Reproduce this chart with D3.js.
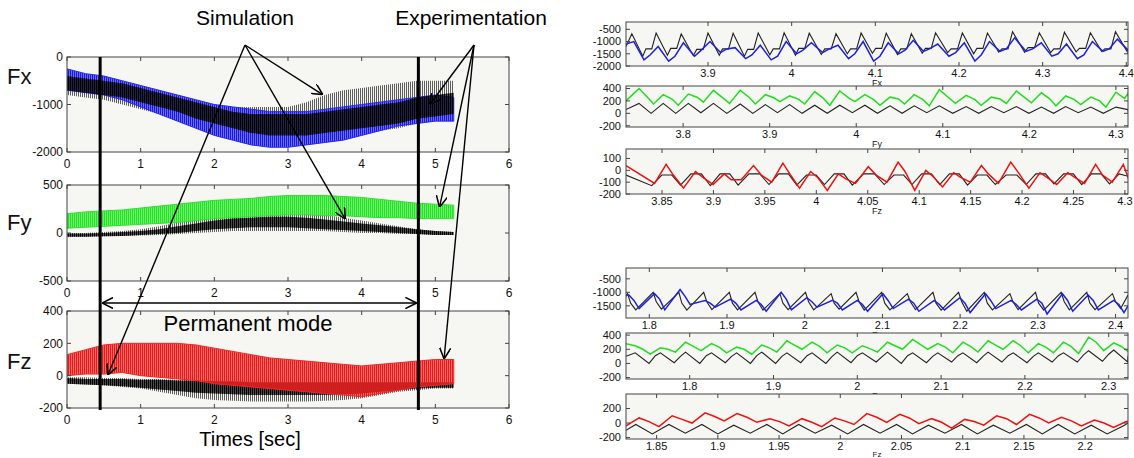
<!DOCTYPE html>
<html>
<head>
<meta charset="utf-8">
<script src="https://cdn.jsdelivr.net/npm/d3@7"></script>
<style>
  body { margin: 0; background: #fff; }
  text { font-family: "Liberation Sans", Arial, Helvetica, sans-serif; }
</style>
</head>
<body>
<script>
// ---------- left: whole run, envelopes read every 0.25 s ----------
var leftTime = [0, 0.25, 0.5, 0.75, 1, 1.25, 1.5, 1.75, 2, 2.25, 2.5, 2.75, 3, 3.25, 3.5, 3.75, 4, 4.25, 4.5, 4.75, 5, 5.25];
var leftXTicks = [0, 1, 2, 3, 4, 5, 6];

var fxExpUp  = [-250, -350, -400, -500, -600, -700, -800, -900, -1000, -1050, -1100, -1150, -1150, -1150, -1100, -1050, -1000, -950, -900, -850, -800, -850];
var fxExpLo  = [-700, -750, -800, -900, -1050, -1200, -1350, -1500, -1650, -1750, -1850, -1900, -1900, -1850, -1800, -1750, -1650, -1550, -1450, -1400, -1350, -1350];
var fxSimUp  = [-450, -500, -550, -600, -650, -750, -850, -950, -1000, -1050, -1050, -1050, -1050, -950, -800, -700, -650, -600, -550, -500, -500, -500];
var fxSimLo  = [-800, -850, -900, -1000, -1100, -1200, -1350, -1450, -1550, -1650, -1700, -1750, -1800, -1800, -1750, -1700, -1650, -1550, -1500, -1400, -1300, -1250];
var fxCoreUp = [-400, -450, -500, -550, -650, -750, -850, -950, -1050, -1150, -1200, -1200, -1200, -1200, -1150, -1100, -1050, -1000, -950, -850, -800, -750];
var fxCoreLo = [-700, -750, -800, -850, -950, -1050, -1150, -1300, -1400, -1500, -1600, -1650, -1650, -1650, -1600, -1550, -1500, -1450, -1400, -1300, -1250, -1200];

var fyExpUp  = [200, 220, 230, 240, 260, 280, 300, 320, 340, 350, 360, 380, 390, 390, 390, 380, 370, 350, 330, 310, 300, 290];
var fyExpLo  = [50, 60, 70, 80, 90, 100, 110, 130, 150, 160, 170, 180, 190, 190, 180, 180, 170, 160, 160, 150, 150, 150];
var fySimUp  = [0, 0, 10, 20, 40, 70, 110, 150, 180, 200, 210, 220, 220, 210, 190, 160, 130, 100, 70, 40, 20, 10];
var fySimLo  = [-40, -40, -35, -30, -25, -20, -10, 0, 10, 20, 20, 20, 20, 20, 20, 10, 0, 0, -10, -10, -20, -20];
var fyCoreUp = [-5, -5, 0, 10, 20, 40, 70, 100, 130, 150, 160, 170, 170, 160, 140, 120, 100, 80, 60, 40, 20, 10];
var fyCoreLo = [-40, -40, -35, -30, -20, -10, 0, 20, 40, 50, 60, 60, 60, 50, 40, 30, 20, 10, 0, -10, -20, -20];

var fzExpUp  = [130, 160, 190, 200, 200, 200, 200, 190, 170, 150, 130, 110, 100, 90, 80, 70, 60, 70, 80, 90, 100, 100];
var fzExpLo  = [0, 10, 10, 20, 0, -10, -20, -30, -50, -60, -70, -80, -90, -100, -110, -120, -130, -110, -90, -70, -60, -50];
var fzSimUp  = [-10, -10, -15, -15, -20, -20, -25, -25, -30, -30, -30, -30, -30, -30, -30, -30, -30, -30, -30, -30, -30, -30];
var fzSimLo  = [-50, -55, -60, -70, -80, -100, -120, -140, -150, -155, -160, -160, -160, -160, -155, -150, -140, -120, -100, -90, -80, -80];
var fzCoreUp = [-15, -20, -20, -20, -25, -25, -30, -30, -35, -35, -40, -40, -40, -40, -40, -40, -40, -40, -40, -40, -40, -40];
var fzCoreLo = [-50, -55, -60, -65, -75, -85, -95, -105, -110, -115, -120, -120, -120, -120, -120, -115, -110, -100, -90, -80, -75, -75];

var modeStart = 0.45, modeEnd = 4.77;

// ---------- right: zoomed windows, one value per cycle ----------
var a1Time = [3.809, 3.838, 3.868, 3.900, 3.930, 3.960, 3.991, 4.021, 4.053, 4.083, 4.113, 4.143, 4.172, 4.204, 4.234, 4.264, 4.296, 4.326, 4.357, 4.387];
var a1SimPeak   = [-680, -650, -690, -650, -660, -650, -640, -660, -680, -650, -660, -680, -640, -650, -650, -600, -640, -620, -640, -600];
var a1SimTrough = [-1600, -1560, -1580, -1560, -1600, -1540, -1560, -1530, -1500, -1480, -1530, -1480, -1450, -1500, -1430, -1440, -1450, -1420, -1400, -1380];
var a1SimStep   = [-1300, -1280, -1320, -1300, -1320, -1300, -1280, -1300, -1300, -1280, -1300, -1280, -1300, -1280, -1300, -1250, -1300, -1280, -1300, -1250];
var a1ExpPeak   = [-1000, -1200, -1050, -1000, -1250, -1150, -1000, -1050, -1150, -1000, -1050, -950, -1100, -1050, -1000, -850, -1050, -1100, -1000, -900];
var a1ExpTrough = [-1750, -1800, -1600, -1450, -1700, -1750, -1500, -1450, -1700, -1800, -1500, -1400, -1600, -1800, -1400, -1400, -1600, -1700, -1400, -1350];
var a1ExpStep   = [-1550, -1600, -1350, -1300, -1550, -1600, -1350, -1300, -1500, -1600, -1350, -1300, -1450, -1550, -1300, -1300, -1500, -1550, -1300, -1250];
var a1XTicks = [3.9, 4, 4.1, 4.2, 4.3, 4.4];

var a2Time = [3.749, 3.777, 3.806, 3.835, 3.866, 3.895, 3.923, 3.952, 3.981, 4.010, 4.039, 4.067, 4.096, 4.127, 4.156, 4.185, 4.214, 4.242, 4.271, 4.300];
var a2SimPeak   = [160, 160, 160, 160, 150, 140, 140, 130, 130, 130, 120, 120, 120, 110, 110, 110, 100, 110, 100, 100];
var a2SimTrough = [0, 0, 10, 0, 0, 10, 0, 0, 10, 0, 0, 10, 0, 0, 10, 0, 0, 10, 0, 0];
var a2ExpPeak   = [400, 300, 310, 370, 370, 300, 280, 350, 360, 300, 260, 300, 380, 290, 260, 360, 330, 280, 260, 340];
var a2ExpStep   = [260, 230, 260, 250, 260, 250, 230, 240, 250, 220, 230, 220, 250, 220, 230, 250, 230, 220, 200, 240];
var a2ExpTrough = [150, 130, 180, 160, 150, 190, 150, 130, 190, 130, 150, 120, 160, 130, 160, 170, 120, 140, 100, 150];
var a2XTicks = [3.8, 3.9, 4, 4.1, 4.2, 4.3];

var a3Time = [3.840, 3.868, 3.897, 3.924, 3.954, 3.981, 4.008, 4.035, 4.066, 4.093, 4.120, 4.147, 4.174, 4.204, 4.231, 4.258, 4.285];
var a3SimTrough = [-130, -125, -130, -125, -120, -125, -120, -125, -120, -120, -120, -125, -120, -120, -115, -120, -115];
var a3SimTop    = [-40, -30, -30, -30, -30, -40, -30, -30, -40, -30, -30, -40, -40, -30, -30, -30, -30];
var a3ExpTrough = [-110, -150, -120, -80, -100, -150, -170, -110, -100, -170, -140, -100, -110, -150, -120, -110, -100];
var a3ExpPeak   = [50, -10, -30, 40, 60, -10, -30, 30, 70, 0, -20, 40, 70, -20, -20, 50, 50];
var a3ExpStep   = [-40, -60, -80, -40, -30, -60, -70, -40, -10, -50, -60, -30, -20, -60, -60, -40, -20];
var a3XTicks = [3.85, 3.9, 3.95, 4, 4.05, 4.1, 4.15, 4.2, 4.25, 4.3];

var b1Time = [1.772, 1.805, 1.838, 1.870, 1.903, 1.936, 1.968, 2.001, 2.034, 2.066, 2.099, 2.132, 2.165, 2.198, 2.231, 2.264, 2.297, 2.330, 2.363, 2.396];
var b1SimPeak   = [-1050, -1000, -1000, -1000, -1000, -1000, -1050, -1000, -1050, -1000, -1000, -1050, -1000, -1000, -1000, -1050, -1000, -1000, -1000, -1050];
var b1SimKnee   = [-1400, -1350, -1400, -1350, -1400, -1350, -1400, -1350, -1400, -1350, -1400, -1350, -1400, -1350, -1400, -1350, -1400, -1350, -1400, -1350];
var b1SimTrough = [-1650, -1620, -1660, -1640, -1650, -1660, -1640, -1650, -1620, -1660, -1650, -1640, -1660, -1700, -1650, -1640, -1660, -1650, -1640, -1600];
var b1ExpPeak   = [-1100, -1050, -900, -1300, -1250, -1300, -1000, -1200, -1300, -1300, -1050, -1250, -1300, -1200, -1050, -1300, -1250, -1050, -1100, -1300];
var b1ExpKnee   = [-1300, -1250, -1150, -1400, -1400, -1450, -1250, -1350, -1400, -1450, -1300, -1400, -1450, -1400, -1300, -1450, -1400, -1300, -1300, -1450];
var b1ExpTrough = [-1600, -1650, -1450, -1550, -1650, -1700, -1650, -1550, -1650, -1700, -1600, -1700, -1650, -1750, -1600, -1650, -1800, -1700, -1650, -1750];
var b1XTicks = [1.8, 1.9, 2, 2.1, 2.2, 2.3, 2.4];

var b2Time = [1.735, 1.765, 1.795, 1.826, 1.856, 1.886, 1.916, 1.946, 1.976, 2.006, 2.036, 2.066, 2.096, 2.126, 2.156, 2.186, 2.216, 2.246, 2.276, 2.306];
var b2SimPeak   = [150, 150, 160, 150, 150, 160, 150, 150, 160, 150, 160, 150, 150, 150, 160, 150, 150, 150, 180, 190];
var b2SimTrough = [0, 10, 0, 10, 0, 0, 10, 0, 10, 20, 0, 10, 20, 10, 20, 10, 20, 20, 30, 20];
var b2SimStep   = [110, 100, 110, 100, 110, 100, 110, 100, 110, 100, 110, 100, 110, 100, 110, 100, 110, 120, 130, 120];
var b2ExpPeak   = [250, 220, 300, 280, 230, 260, 320, 300, 260, 250, 300, 340, 280, 300, 320, 320, 280, 300, 370, 290];
var b2ExpStep   = [200, 200, 240, 230, 200, 220, 260, 240, 220, 210, 250, 270, 230, 240, 260, 250, 230, 240, 300, 240];
var b2ExpTrough = [130, 160, 180, 150, 130, 160, 200, 150, 150, 160, 200, 200, 150, 160, 200, 150, 150, 140, 180, 170];
var b2XTicks = [1.8, 1.9, 2, 2.1, 2.2, 2.3];

var b3Time = [1.833, 1.860, 1.887, 1.913, 1.940, 1.966, 1.993, 2.019, 2.046, 2.072, 2.099, 2.125, 2.152, 2.178, 2.205, 2.231];
var b3SimPeak   = [-20, -20, -20, -30, -20, -20, -30, -20, -20, -30, -20, -30, -20, -20, -30, -40];
var b3SimTrough = [-150, -140, -150, -140, -150, -140, -150, -140, -150, -140, -150, -140, -150, -150, -150, -150];
var b3ExpPeak   = [70, 100, 140, 130, 60, 60, 70, 130, 120, 60, 50, 100, 120, 80, 40, 20];
var b3ExpStep   = [20, 50, 90, 80, 20, 10, 30, 80, 70, 10, 20, 60, 70, 30, 0, -20];
var b3ExpTrough = [-50, 0, 30, 10, -40, -50, -20, 10, -10, -70, -30, -20, 0, -40, -60, -70];
var b3XTicks = [1.85, 1.9, 1.95, 2, 2.05, 2.1, 2.15, 2.2];

// ---------- drawing ----------
var W = 1134, H = 458;
var svg = d3.select("body").append("svg").attr("width", W).attr("height", H);
var defs = svg.append("defs");

function hatch(id, color, w, gap) {
  defs.append("pattern").attr("id", id).attr("patternUnits", "userSpaceOnUse")
      .attr("width", gap).attr("height", 6)
    .append("rect").attr("width", w).attr("height", 6).attr("fill", color);
}
hatch("hGray", "#5c5c5c", 1, 2);
hatch("hCore", "#000", 1.7, 2);
hatch("hBlue", "#1616ee", 1.6, 2);
hatch("hGreen", "#1ee61e", 1.6, 2);
hatch("hRed", "#f01414", 1.6, 2);

defs.append("marker").attr("id", "arr").attr("viewBox", "0 0 10 10")
    .attr("refX", 9).attr("refY", 5).attr("markerWidth", 8).attr("markerHeight", 8)
    .attr("orient", "auto-start-reverse")
  .append("path").attr("d", "M0,0L10,5L0,10").attr("fill", "none")
    .attr("stroke", "#000").attr("stroke-width", 1.4);

var bg = "#f6f6f2", frame = "#444";
var clipN = 0;

function fmt(v) { return String(+v.toFixed(2)); }

function frameAndTicks(g, x, y, xTicks, yTicks, fs, yLabX, xLabDy) {
  var r = x.range(), s = y.range();
  g.append("rect").attr("x", r[0]).attr("y", s[1]).attr("width", r[1] - r[0])
    .attr("height", s[0] - s[1]).attr("fill", "none").attr("stroke", frame).attr("stroke-width", 1);
  xTicks.forEach(function(t) {
    g.append("line").attr("x1", x(t)).attr("x2", x(t)).attr("y1", s[0]).attr("y2", s[0] - 4).attr("stroke", frame);
    g.append("line").attr("x1", x(t)).attr("x2", x(t)).attr("y1", s[1]).attr("y2", s[1] + 4).attr("stroke", frame);
    g.append("text").attr("x", x(t)).attr("y", s[0] + xLabDy).attr("text-anchor", "middle")
      .attr("font-size", fs).attr("fill", "#111").text(fmt(t));
  });
  yTicks.forEach(function(v) {
    g.append("line").attr("x1", r[0]).attr("x2", r[0] + 4).attr("y1", y(v)).attr("y2", y(v)).attr("stroke", frame);
    g.append("line").attr("x1", r[1]).attr("x2", r[1] - 4).attr("y1", y(v)).attr("y2", y(v)).attr("stroke", frame);
    g.append("text").attr("x", yLabX).attr("y", y(v)).attr("dy", "0.35em").attr("text-anchor", "end")
      .attr("font-size", fs).attr("fill", "#111").text(v);
  });
}

function clipFor(x, y) {
  var id = "clip" + (clipN++);
  defs.append("clipPath").attr("id", id).append("rect")
    .attr("x", x.range()[0]).attr("y", y.range()[1])
    .attr("width", x.range()[1] - x.range()[0]).attr("height", y.range()[0] - y.range()[1]);
  return "url(#" + id + ")";
}

var xLeft = d3.scaleLinear().domain([0, 6]).range([67, 509]);

function leftPanel(p) {
  var y = d3.scaleLinear().domain(p.yDomain).range([p.bottom, p.top]);
  var g = svg.append("g");
  g.append("rect").attr("x", 67).attr("y", p.top).attr("width", 442).attr("height", p.bottom - p.top).attr("fill", bg);
  var inner = g.append("g").attr("clip-path", clipFor(xLeft, y));
  function band(up, lo, fill, stroke) {
    var area = d3.area().x(function(d, i) { return xLeft(leftTime[i]); })
      .y0(function(d, i) { return y(lo[i]); }).y1(function(d) { return y(d); });
    inner.append("path").datum(up).attr("d", area).attr("fill", fill)
      .attr("stroke", stroke || "none").attr("stroke-width", 1);
  }
  p.layers.forEach(function(l) { band(l[0], l[1], l[2], l[3]); });
  frameAndTicks(g, xLeft, y, leftXTicks, p.yTicks, 12, 63, 16);
  svg.append("text").attr("x", 7).attr("y", p.labelY).attr("dy", "0.35em")
    .attr("font-size", 22).attr("fill", "#111").text(p.label);
  p.y = y;
  return p;
}

var fx = leftPanel({ top: 57, bottom: 152, yDomain: [-2000, 0], yTicks: [0, -1000, -2000], label: "Fx", labelY: 76,
  layers: [[fxSimUp, fxSimLo, "url(#hGray)"], [fxExpUp, fxExpLo, "url(#hBlue)", "#2a2ae8"], [fxCoreUp, fxCoreLo, "url(#hCore)"]] });
var fy = leftPanel({ top: 185, bottom: 281, yDomain: [-500, 500], yTicks: [500, 0, -500], label: "Fy", labelY: 222,
  layers: [[fySimUp, fySimLo, "url(#hGray)"], [fyCoreUp, fyCoreLo, "url(#hCore)"], [fyExpUp, fyExpLo, "url(#hGreen)", "#30e030"]] });
var fz = leftPanel({ top: 311, bottom: 408, yDomain: [-200, 400], yTicks: [400, 200, 0, -200], label: "Fz", labelY: 361,
  layers: [[fzSimUp, fzSimLo, "url(#hGray)"], [fzCoreUp, fzCoreLo, "url(#hCore)"], [fzExpUp, fzExpLo, "url(#hRed)", "#f02828"]] });

// permanent mode markers
[modeStart, modeEnd].forEach(function(t) {
  svg.append("line").attr("x1", xLeft(t)).attr("x2", xLeft(t)).attr("y1", 57).attr("y2", 410)
    .attr("stroke", "#000").attr("stroke-width", 3);
});
svg.append("line").attr("x1", xLeft(modeStart) + 3).attr("x2", xLeft(modeEnd) - 3).attr("y1", 303).attr("y2", 303)
  .attr("stroke", "#000").attr("stroke-width", 1.4)
  .attr("marker-start", "url(#arr)").attr("marker-end", "url(#arr)");
svg.append("text").attr("x", 248).attr("y", 331).attr("text-anchor", "middle").attr("font-size", 22).text("Permanent mode");

// annotations
svg.append("text").attr("x", 245).attr("y", 25).attr("text-anchor", "middle").attr("font-size", 21).text("Simulation");
svg.append("text").attr("x", 471).attr("y", 25).attr("text-anchor", "middle").attr("font-size", 21).text("Experimentation");
svg.append("text").attr("x", 250).attr("y", 446).attr("text-anchor", "middle").attr("font-size", 20).text("Times [sec]");

function pointer(x0, y0, panel, t, v) {
  svg.append("line").attr("x1", x0).attr("y1", y0).attr("x2", xLeft(t)).attr("y2", panel.y(v))
    .attr("stroke", "#000").attr("stroke-width", 1.4).attr("marker-end", "url(#arr)");
}
pointer(245, 45, fx, 3.46, -780);
pointer(245, 45, fy, 3.77, 155);
pointer(245, 45, fz, 0.56, 10);
pointer(474, 45, fx, 4.93, -990);
pointer(474, 45, fy, 5.06, 280);
pointer(474, 45, fz, 5.12, 110);

// ---------- right panels ----------
function cycles(times, shape, first, last, dom) {
  var pts = [[dom[0], first]];
  times.forEach(function(t, i) {
    var next = i < times.length - 1 ? times[i + 1] : t + (t - times[i - 1]);
    shape.forEach(function(s) { pts.push([t + s[0] * (next - t), s[1][i]]); });
  });
  pts.push([dom[1], last]);
  pts.sort(function(a, b) { return a[0] - b[0]; });
  return pts;
}

function rightPanel(p) {
  var x = d3.scaleLinear().domain(p.xDomain).range([626, 1128]);
  var y = d3.scaleLinear().domain(p.yDomain).range([p.bottom, p.top]);
  var g = svg.append("g");
  g.append("rect").attr("x", 626).attr("y", p.top).attr("width", 502).attr("height", p.bottom - p.top).attr("fill", bg);
  var inner = g.append("g").attr("clip-path", clipFor(x, y));
  var line = d3.line().x(function(d) { return x(d[0]); }).y(function(d) { return y(d[1]); });
  inner.append("path").datum(p.sim).attr("d", line).attr("fill", "none").attr("stroke", "#222").attr("stroke-width", 1.1);
  inner.append("path").datum(p.exp).attr("d", line).attr("fill", "none").attr("stroke", p.color).attr("stroke-width", 1.5);
  frameAndTicks(g, x, y, p.xTicks, p.yTicks, 11, 621, 11);
  g.append("text").attr("x", 877).attr("y", p.titleY || p.bottom + 20).attr("text-anchor", "middle")
    .attr("font-size", p.titleSize || 9).attr("fill", "#222").text(p.title);
}

var a1Dom = [3.802, 4.402];
rightPanel({ top: 22, bottom: 66, xDomain: a1Dom, yDomain: [-2000, -200], xTicks: a1XTicks, yTicks: [-500, -1000, -1500, -2000], title: "Fx", color: "#2020e0",
  sim: cycles(a1Time, [[0, a1SimPeak], [0.45, a1SimTrough], [0.58, a1SimStep], [0.82, a1SimStep]], -1200, -1300, a1Dom),
  exp: cycles(a1Time, [[0.08, a1ExpPeak], [0.5, a1ExpTrough], [0.75, a1ExpStep]], -1100, -1450, a1Dom) });

var a2Dom = [3.734, 4.314];
rightPanel({ top: 86, bottom: 127, xDomain: a2Dom, yDomain: [-220, 440], xTicks: a2XTicks, yTicks: [400, 200, 0, -200], title: "Fy", color: "#22dd22",
  sim: cycles(a2Time, [[0, a2SimPeak], [0.5, a2SimTrough]], 60, 60, a2Dom),
  exp: cycles(a2Time, [[0, a2ExpPeak], [0.35, a2ExpStep], [0.6, a2ExpTrough]], 200, 320, a2Dom) });

var a3Dom = [3.815, 4.303];
rightPanel({ top: 149, bottom: 194, xDomain: a3Dom, yDomain: [-200, 180], xTicks: a3XTicks, yTicks: [100, 0, -100, -200], title: "Fz", color: "#ee1111",
  sim: cycles(a3Time, [[0, a3SimTrough], [0.35, a3SimTop], [0.7, a3SimTop]], -40, -50, a3Dom),
  exp: cycles(a3Time, [[0.1, a3ExpTrough], [0.5, a3ExpPeak], [0.75, a3ExpStep]], 40, -60, a3Dom) });

var b1Dom = [1.770, 2.416];
rightPanel({ top: 268, bottom: 318, xDomain: b1Dom, yDomain: [-1950, -100], xTicks: b1XTicks, yTicks: [-500, -1000, -1500], title: "Fx", color: "#2020e0",
  sim: cycles(b1Time, [[0, b1SimPeak], [0.12, b1SimKnee], [0.32, b1SimTrough]], -1150, -1100, b1Dom),
  exp: cycles(b1Time, [[0.05, b1ExpPeak], [0.25, b1ExpKnee], [0.45, b1ExpTrough]], -1100, -1500, b1Dom) });

var b2Dom = [1.724, 2.323];
rightPanel({ top: 333, bottom: 379, xDomain: b2Dom, yDomain: [-220, 430], xTicks: b2XTicks, yTicks: [400, 200, 0, -200], title: "Fy", color: "#22dd22",
  sim: cycles(b2Time, [[0, b2SimPeak], [0.55, b2SimTrough], [0.8, b2SimStep]], 100, 100, b2Dom),
  exp: cycles(b2Time, [[0, b2ExpPeak], [0.3, b2ExpStep], [0.6, b2ExpTrough]], 280, 170, b2Dom) });

var b3Dom = [1.825, 2.235];
rightPanel({ top: 394, bottom: 439, xDomain: b3Dom, yDomain: [-220, 400], xTicks: b3XTicks, yTicks: [200, 0, -200], title: "Fz", color: "#ee1111", titleY: 457, titleSize: 8,
  sim: cycles(b3Time, [[0, b3SimPeak], [0.5, b3SimTrough]], -100, 0, b3Dom),
  exp: cycles(b3Time, [[0.1, b3ExpPeak], [0.4, b3ExpStep], [0.7, b3ExpTrough]], -40, 20, b3Dom) });
</script>
</body>
</html>
